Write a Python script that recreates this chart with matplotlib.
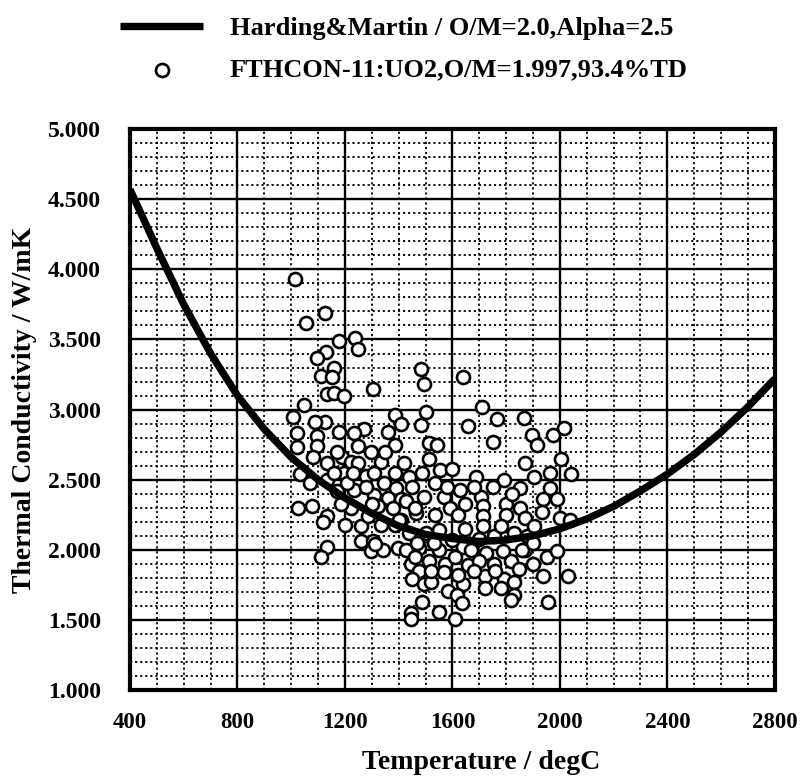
import matplotlib
matplotlib.use("Agg")
import matplotlib.pyplot as plt
from matplotlib.ticker import MultipleLocator, FormatStrFormatter

plt.rcParams["font.family"] = ["Liberation Serif", "DejaVu Serif"]
plt.rcParams["font.weight"] = "bold"
plt.rcParams["axes.labelweight"] = "bold"

# Harding & Martin curve
hm_temp = [400, 500, 600, 700, 800, 900, 1000, 1100, 1200, 1300, 1400, 1500, 1600,
           1700, 1800, 1900, 2000, 2100, 2200, 2300, 2400, 2500, 2600, 2700, 2800]
hm_k = [4.57, 4.15, 3.75, 3.40, 3.10, 2.86, 2.66, 2.50, 2.37, 2.26, 2.17, 2.11, 2.08,
        2.06, 2.07, 2.10, 2.15, 2.22, 2.31, 2.42, 2.54, 2.68, 2.84, 3.02, 3.22]

# FTHCON-11 measured points (temperature degC)
meas_temp = [1014, 1125, 1055, 1177, 1238, 1247, 1131, 1096, 1158, 1111, 1152, 1303, 1133, 1158,
             1196, 1048, 1008, 1385, 1127, 1089, 1023, 1272, 1360, 1020, 1096, 1096, 1177, 1234,
             1385, 1247, 1296, 1083, 1133, 1190, 1221, 1334, 1385, 1033, 1070, 1277, 1346, 1391,
             1196, 1133, 1171, 1234, 1309, 1360, 1026, 1077, 1133, 1120, 1202, 1221, 1259, 1284,
             1334, 1385, 1259, 1303, 1296, 1340, 1397, 1133, 1112, 1158, 1209, 1309, 1322, 1184,
             1410, 1410,
             1482, 1494, 1640, 1710, 1500, 1409, 1482, 1659, 1766, 1866, 1896, 1915, 1750, 1976,
             2015, 1512, 1543, 1512, 1872, 2006, 1555, 1598, 1689, 1793, 1902, 1963, 2043, 1439,
             1488, 1537, 1628, 1707, 1851, 1963, 1427, 1494, 1567, 1646, 1713, 1799, 1851, 1939,
             1988, 1463, 1537, 1713, 1799, 1872, 1933, 2000, 1402, 1549, 1646, 1713, 1829, 1427,
             1476, 1549, 1640, 1726, 1787, 1872, 1951, 1990, 1445, 1512, 1573, 1659, 1756, 1817,
             1476, 1567, 1720, 1848, 1939, 2030, 1451, 1494, 1640, 1793, 1829, 1585, 1720, 1780,
             1616, 1829, 1817, 1488, 1634, 1957, 1445, 1549, 1610, 1445, 1671, 1598, 1439, 1500,
             1756, 1878, 1780, 1902, 2039,
             1461, 1521, 1313, 1250, 1280, 1170, 1350, 1420, 1450, 1380, 1230, 1300, 1460, 1590,
             1620, 1680, 1750, 1820, 1580, 1470, 1530, 1700, 1860, 1610, 1700, 1520, 1620, 1680,
             1760, 1900, 1900]
meas_k = [3.93, 3.69, 3.62, 3.49, 3.51, 3.43, 3.41, 3.37, 3.30, 3.24, 3.23, 3.15, 3.11, 3.12,
          3.10, 3.03, 2.95, 2.96, 2.91, 2.91, 2.83, 2.86, 2.84, 2.73, 2.81, 2.74, 2.84, 2.83,
          2.75, 2.74, 2.70, 2.66, 2.62, 2.66, 2.63, 2.63, 2.55, 2.54, 2.48, 2.53, 2.48, 2.44,
          2.55, 2.50, 2.42, 2.43, 2.39, 2.37, 2.30, 2.31, 2.24, 2.20, 2.18, 2.30, 2.17, 2.24,
          2.18, 2.18, 2.06, 2.06, 1.99, 2.00, 2.01, 2.02, 1.95, 2.55, 2.48, 2.55, 2.31, 2.33,
          2.36, 2.21,
          3.29, 3.18, 3.23, 3.02, 2.98, 2.90, 2.89, 2.88, 2.93, 2.94, 2.82, 2.75, 2.77, 2.82,
          2.87, 2.76, 2.75, 2.65, 2.62, 2.65, 2.57, 2.58, 2.52, 2.50, 2.52, 2.55, 2.54, 2.52,
          2.55, 2.48, 2.43, 2.38, 2.44, 2.44, 2.35, 2.38, 2.38, 2.33, 2.31, 2.33, 2.30, 2.36,
          2.36, 2.26, 2.25, 2.24, 2.25, 2.23, 2.27, 2.23, 2.21, 2.14, 2.15, 2.17, 2.12, 2.00,
          2.01, 2.00, 2.02, 1.98, 1.99, 2.00, 1.95, 1.99, 1.90, 1.92, 1.90, 1.89, 1.90, 1.92,
          1.85, 1.84, 1.81, 1.86, 1.81, 1.81, 1.79, 1.76, 1.76, 1.79, 1.77, 1.71, 1.73, 1.73,
          1.68, 1.68, 1.64, 1.63, 1.62, 1.63, 1.55, 1.56, 1.51, 1.51, 2.00, 2.07, 2.12, 2.12,
          2.10, 2.10, 2.17, 2.17, 2.21,
          1.95, 1.77, 2.04, 2.62, 2.45, 2.70, 2.70, 2.62, 2.45, 2.30, 2.55, 2.33, 2.30, 2.30,
          2.25, 2.45, 2.45, 2.40, 2.45, 2.05, 2.05, 2.08, 2.00, 1.95, 1.92, 1.85, 1.82, 1.85,
          1.85, 1.90, 2.05]

fig = plt.figure(figsize=(8.0, 7.78), dpi=100)
ax = fig.add_axes([0.1625, 0.113, 0.806, 0.721])

pts = ax.scatter(meas_temp, meas_k, s=88, facecolors="white", edgecolors="black",
                 linewidths=1.9, zorder=3, label="FTHCON-11:UO2,O/M=1.997,93.4%TD")
line, = ax.plot(hm_temp, hm_k, color="black", lw=5.3, zorder=4, solid_capstyle="butt",
                label="Harding&Martin / O/M=2.0,Alpha=2.5")

ax.set_xlim(400, 2800)
ax.set_ylim(1.0, 5.0)
ax.xaxis.set_major_locator(MultipleLocator(400))
ax.xaxis.set_minor_locator(MultipleLocator(100))
ax.yaxis.set_major_locator(MultipleLocator(0.5))
ax.yaxis.set_minor_locator(MultipleLocator(0.1))
ax.yaxis.set_major_formatter(FormatStrFormatter("%.3f"))
ax.grid(which="major", color="black", lw=1.7, ls="-")
ax.grid(which="minor", color="black", lw=1.3, ls=(0, (1.2, 1.6)))
ax.set_axisbelow(True)
ax.tick_params(which="both", length=0, labelsize=17)
ax.tick_params(axis="x", pad=16, labelsize=16.5)
ax.tick_params(axis="y", pad=21)
for s in ax.spines.values():
    s.set_linewidth(3)

ax.set_xlabel("Temperature / degC", fontsize=20)
ax.xaxis.set_label_coords(0.545, -0.106)
ax.set_ylabel("Thermal Conductivity / W/mK", fontsize=20, labelpad=8)

fig.legend(handles=[line, pts], loc="upper left", bbox_to_anchor=(0.15, 0.979),
           frameon=False, fontsize=19, handlelength=3.15, handletextpad=1.0,
           labelspacing=0.7, borderpad=0, borderaxespad=0)

fig.savefig("out.png", dpi=100)
